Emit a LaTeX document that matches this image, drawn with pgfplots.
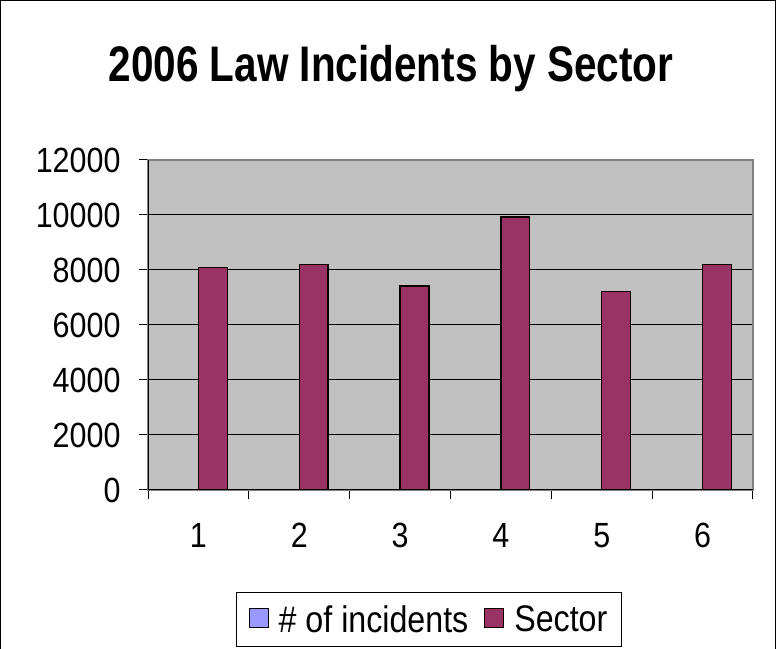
\documentclass[border=0pt]{standalone}
\usepackage{fontspec}
\setmainfont{Liberation Sans}[FakeStretch=0.87]
\newfontfamily\titlefont{Liberation Sans}[FakeStretch=0.81]
\usepackage{pgfplots}
\pgfplotsset{compat=1.18}
\definecolor{barmaroon}{HTML}{993366}
\definecolor{legblue}{HTML}{9999FF}
\definecolor{plotgray}{HTML}{C0C0C0}
\definecolor{bordergray}{HTML}{808080}
\begin{document}
\begin{tikzpicture}
\path[use as bounding box] (0,0) rectangle (776bp,649bp);
\draw[line width=1bp] (0.5bp,0) -- (0.5bp,648.5bp) -- (775.5bp,648.5bp) -- (775.5bp,0);
\node[font=\titlefont\bfseries\fontsize{50bp}{60bp}\selectfont, anchor=base, inner sep=0pt] at (391bp,567bp) {2006 Law Incidents by Sector};
\begin{axis}[
  at={(148bp,159bp)}, anchor=south west,
  scale only axis, width=605bp, height=330bp,
  xmin=0.5, xmax=6.5, ymin=0, ymax=12000,
  scaled y ticks=false,
  axis background/.style={fill=plotgray},
  axis line style={draw=bordergray, line width=1.5bp},
  ytick={0,2000,4000,6000,8000,10000,12000},
  yticklabels={0,2000,4000,6000,8000,10000,12000},
  xtick={0.5,1.5,2.5,3.5,4.5,5.5,6.5},
  xticklabels={},
  extra x ticks={1,2,3,4,5,6},
  extra x tick labels={1,2,3,4,5,6},
  extra x tick style={major tick length=0pt, grid=none},
  ymajorgrids, grid style={black, line width=1bp},
  tick align=outside,
  tick pos=left,
  major tick length=9bp,
  tick style={black, line width=1bp},
  ticklabel style={font=\fontsize{35bp}{42bp}\selectfont},
  yticklabel style={xshift=-15bp},
  xticklabel style={yshift=-30bp},
  legend style={at={(0.4645,-0.392)}, anchor=center, legend columns=2,
    draw=black, line width=1bp, font=\fontsize{37bp}{44bp}\selectfont,
    /tikz/every odd column/.append style={column sep=8bp},
    /tikz/every even column/.append style={column sep=14bp},
    inner xsep=12bp, inner ysep=11bp},
]
\addlegendimage{legend image code/.code={\draw[fill=legblue,draw=black,line width=1bp] (0bp,-8bp) rectangle (19bp,11bp);}}
\addlegendentry{\# of incidents}
\addplot[ybar, bar width=0.2857, bar shift=0.1429, fill=barmaroon, draw=black, line width=1.3bp,
  legend image code/.code={\draw[fill=barmaroon,draw=black,line width=1bp] (0bp,-8bp) rectangle (19bp,11bp);}]
  coordinates {(1,8080) (2,8200) (3,7420) (4,9930) (5,7220) (6,8200)};
\addlegendentry{Sector}
\draw[black, line width=1bp] (rel axis cs:0,0) -- (rel axis cs:0,1);
\draw[black, line width=1bp] (rel axis cs:0,0) -- (rel axis cs:1,0);
\end{axis}
\end{tikzpicture}
\end{document}
